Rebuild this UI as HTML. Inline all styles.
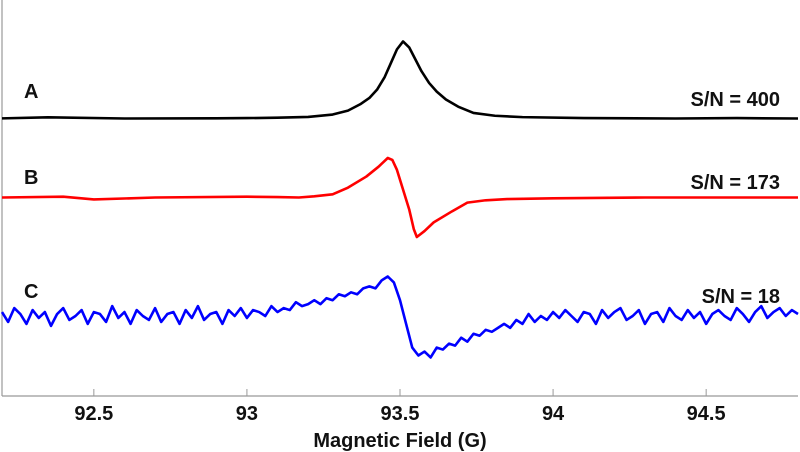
<!DOCTYPE html>
<html><head><meta charset="utf-8"><style>
html,body{margin:0;padding:0;background:#fff;}
svg{display:block;font-family:"Liberation Sans",Arial,sans-serif;}
</style></head><body>
<svg id="chart" width="800" height="452" viewBox="0 0 800 452">
<g id="axes"></g>
<g id="series"></g>
<g id="labels"></g>
</svg>
<script>
const xTicks = [92.5, 93, 93.5, 94, 94.5];
const xTickLabels = ["92.5", "93", "93.5", "94", "94.5"];
const seriesOffsets = [7.0, 5.0, 2.0];
const seriesColors = ["#000000", "#ff0000", "#0000ff"];
const seriesLetters = ["A", "B", "C"];
const snLabels = ["S/N = 400", "S/N = 173", "S/N = 18"];
const aFields = [92.2,92.35,92.6,92.9,93.0,93.1,93.2,93.28,93.33,93.37,93.4,93.425,93.45,93.47,93.49,93.51,93.53,93.55,93.57,93.595,93.62,93.65,93.69,93.74,93.81,93.9,94.1,94.4,94.6,94.8];
const aValues = [0.003,0.03,0.0,0.005,0.01,0.02,0.04,0.1,0.2,0.36,0.52,0.73,1.05,1.4,1.75,1.95,1.8,1.5,1.2,0.9,0.68,0.48,0.3,0.14,0.07,0.035,0.01,0.0,0.01,0.0];
const bFields = [92.2,92.4,92.5,92.7,93.0,93.1,93.17,93.22,93.28,93.33,93.39,93.43,93.46,93.475,93.49,93.51,93.53,93.545,93.555,93.58,93.61,93.67,93.72,93.78,93.85,94.0,94.3,94.8];
const bValues = [0,0.02,-0.05,0.0,0.02,0.01,0.0,0.03,0.08,0.25,0.53,0.78,1.0,0.95,0.7,0.2,-0.3,-0.8,-1.0,-0.85,-0.63,-0.35,-0.13,-0.07,-0.04,-0.02,0.0,0.0];
const cStart = 92.2, cStep = 0.02;
const cValues = [0.1,-0.15,0.2,0.05,-0.2,0.15,-0.05,0.1,-0.25,0.05,
0.2,-0.1,0.0,0.15,-0.2,0.1,0.05,-0.15,0.25,-0.05,
0.1,-0.2,0.15,0.0,-0.1,0.2,-0.15,0.05,0.1,-0.2,
0.15,-0.05,0.25,-0.1,0.05,0.1,-0.2,0.15,0.0,0.2,
-0.05,0.15,0.1,0.0,0.25,0.1,0.2,0.15,0.35,0.25,
0.3,0.4,0.3,0.45,0.4,0.55,0.5,0.6,0.55,0.7,
0.75,0.7,0.9,1.0,0.85,0.4,
-0.2,-0.8,-1.0,-0.9,-1.05,-0.8,-0.85,
-0.7,-0.75,-0.55,-0.65,-0.45,-0.5,-0.35,-0.4,-0.3,-0.2,
-0.3,-0.1,-0.2,0.05,-0.15,0.0,-0.1,0.1,-0.05,0.15,
0.0,-0.15,0.1,0.05,-0.2,0.15,-0.05,0.1,0.2,-0.1,0.0,0.15,-0.2,0.05,0.1,-0.15,0.2,0.0,-0.1,0.15,-0.05,0.1,-0.2,0.05,0.15,0.0,-0.1,0.2,0.05,-0.15,0.1,0.25,-0.05,0.1,0.2,0.0,0.15,0.05];

const NS = "http://www.w3.org/2000/svg";
const X0 = 2, X1 = 798, XMIN = 92.2, XMAX = 94.8;
const YBOT = 396, YTOP = 0, YMAX = 10;
function xS(v){ return X0 + (v - XMIN) / (XMAX - XMIN) * (X1 - X0); }
function yS(v){ return 395 - v * 39.5; }
function mk(tag, attrs, parent){ const e = document.createElementNS(NS, tag); for (const k in attrs) e.setAttribute(k, attrs[k]); parent.appendChild(e); return e; }

const axes = document.getElementById("axes");
const yAxis = mk("line", {x1: X0, y1: 0, x2: X0, y2: YBOT, stroke: "#999", "stroke-width": 1.2}, axes);


const xAxis = mk("line", {x1: X0, y1: YBOT, x2: X1, y2: YBOT, stroke: "#999", "stroke-width": 1.2}, axes);


xTicks.forEach((t, i) => {
  const tk = mk("line", {x1: xS(t), y1: YBOT, x2: xS(t), y2: YBOT - 7, stroke: "#999", "stroke-width": 1}, axes);
  
  
  const lb = mk("text", {x: xS(t), y: 420, "text-anchor": "middle", "font-size": 20, "font-weight": "bold", fill: "#111"}, axes);
  lb.textContent = xTickLabels[i];
  
  
});
const title = mk("text", {x: 400, y: 447, "text-anchor": "middle", "font-size": 20, "font-weight": "bold", fill: "#111"}, axes);
title.textContent = "Magnetic Field (G)";



const sg = document.getElementById("series");
function drawLine(fields, values, off, color, name){
  let d = "";
  values.forEach((v, i) => { d += (i ? "L" : "M") + xS(fields[i]).toFixed(2) + "," + yS(v + off).toFixed(2); });
  const p = mk("path", {d: d, fill: "none", stroke: color, "stroke-width": 2.6, "stroke-linejoin": "round"}, sg);
  
  
}
const cFields = cValues.map((v, i) => cStart + cStep * i);
drawLine(aFields, aValues, seriesOffsets[0], seriesColors[0], "series-a-line");
drawLine(bFields, bValues, seriesOffsets[1], seriesColors[1], "series-b-line");
drawLine(cFields, cValues, seriesOffsets[2], seriesColors[2], "series-c-line");

const lg = document.getElementById("labels");
const letterY = [98, 184, 298];
const snY = [106, 189, 303];
seriesLetters.forEach((s, i) => {
  const t = mk("text", {x: 24, y: letterY[i], "font-size": 20, "font-weight": "bold", fill: "#111"}, lg);
  t.textContent = s;
  
  
  const n = mk("text", {x: 780, y: snY[i], "text-anchor": "end", "font-size": 20, "font-weight": "bold", fill: "#111"}, lg);
  n.textContent = snLabels[i];
  
  
});
</script>
</body></html>
